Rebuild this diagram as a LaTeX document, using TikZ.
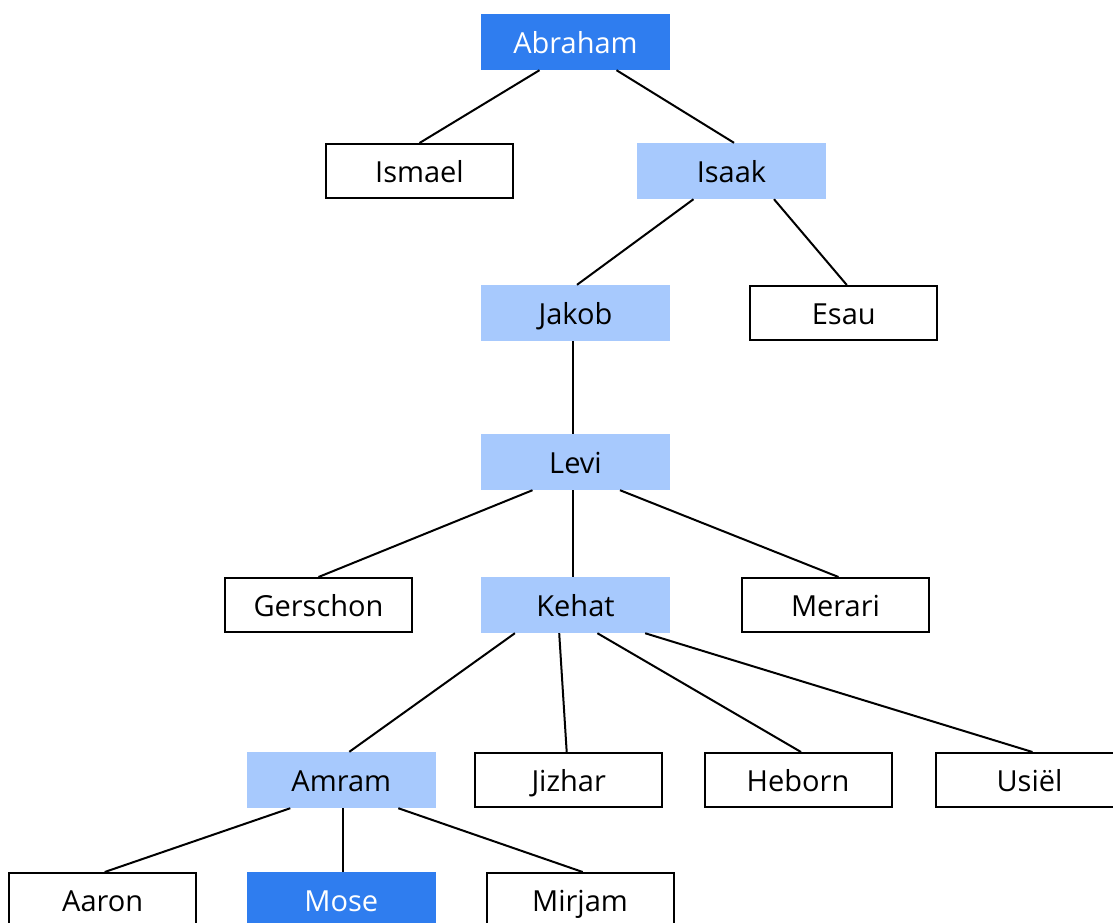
\documentclass[tikz,border=0pt]{standalone}
\usepackage{fontspec}
\setmainfont{Open Sans}
\usetikzlibrary{calc}
\definecolor{darkblue}{HTML}{2F7DEF}
\definecolor{lightblue}{HTML}{A7C9FD}
\tikzset{
  basebox/.style={rectangle, inner sep=0pt, minimum width=189pt, minimum height=56pt,
    font=\fontsize{29}{33}\selectfont, text height=23.5pt, text depth=0pt},
  plainbox/.style={basebox, draw=black, line width=2pt, fill=white, minimum width=187pt, minimum height=54pt},
  keybox/.style={basebox, fill=darkblue, text=white},
  linebox/.style={basebox, fill=lightblue, text=black},
  conn/.style={draw=black, line width=2pt}
}
\begin{document}
\begin{tikzpicture}[x=1pt, y=-1pt]
\useasboundingbox (0,0) rectangle (1113,922);
\clip (0,0) rectangle (1113,922);
\fill[white] (0,0) rectangle (1113,922);
% nodes
\node[keybox]   (abraham)  at (575.5,42)  {Abraham};
\node[plainbox] (ismael)   at (419.5,171) {Ismael};
\node[linebox]  (isaak)    at (731.5,171) {Isaak};
\node[linebox]  (jakob)    at (575.5,313) {Jakob};
\node[plainbox] (esau)     at (843.8,313) {Esau};
\node[linebox]  (levi)     at (575.5,462) {Levi};
\node[plainbox] (gerschon) at (318.5,605) {Gerschon};
\node[linebox]  (kehat)    at (575.5,605) {Kehat};
\node[plainbox] (merari)   at (835.5,605) {Merari};
\node[linebox]  (amram)    at (341.3,780) {Amram};
\node[plainbox] (jizhar)   at (568.7,780) {Jizhar};
\node[plainbox] (heborn)   at (798,780)   {Heborn};
\node[plainbox] (usiel)    at (1029.5,780) {Usiël};
\node[plainbox] (aaron)    at (102.7,900) {Aaron};
\node[keybox]   (mose)     at (341.3,900) {Mose};
\node[plainbox] (mirjam)   at (580,900)   {Mirjam};
% connectors
\draw[conn] ($(abraham.south)+(-36,0)$) -- ($(ismael.north)+(0,0)$);
\draw[conn] ($(abraham.south)+(41,0)$) -- ($(isaak.north)+(2.5,0)$);
\draw[conn] ($(isaak.south)+(-38,0)$) -- ($(jakob.north)+(1.5,0)$);
\draw[conn] ($(isaak.south)+(42.5,0)$) -- ($(esau.north)+(3,0)$);
\draw[conn] ($(jakob.south)+(-3,0)$) -- ($(levi.north)+(-3,0)$);
\draw[conn] ($(levi.south)+(-43,0)$) -- ($(gerschon.north)+(0,0)$);
\draw[conn] ($(levi.south)+(-3,0)$) -- ($(kehat.north)+(-3,0)$);
\draw[conn] ($(levi.south)+(44.5,0)$) -- ($(merari.north)+(3,0)$);
\draw[conn] ($(kehat.south)+(-60.6,0)$) -- ($(amram.north)+(8,0)$);
\draw[conn] ($(kehat.south)+(-16.3,0)$) -- ($(jizhar.north)+(-2,0)$);
\draw[conn] ($(kehat.south)+(21.9,0)$) -- ($(heborn.north)+(3,0)$);
\draw[conn] ($(kehat.south)+(69.6,0)$) -- ($(usiel.north)+(3,0)$);
\draw[conn] ($(amram.south)+(-51,0)$) -- ($(aaron.north)+(2,0)$);
\draw[conn] ($(amram.south)+(2,0)$) -- ($(mose.north)+(2,0)$);
\draw[conn] ($(amram.south)+(57,0)$) -- ($(mirjam.north)+(2.7,0)$);
\end{tikzpicture}
\end{document}
